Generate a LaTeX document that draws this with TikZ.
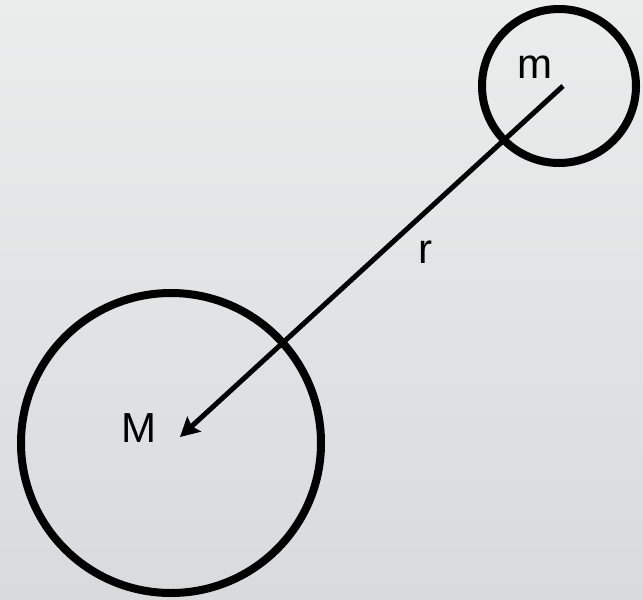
\documentclass[tikz,border=0pt]{standalone}
\usepackage{fontspec}
\setmainfont{Liberation Sans}
\usetikzlibrary{arrows.meta}
\definecolor{bgtop}{HTML}{EBECEC}
\definecolor{bgbot}{HTML}{D9DADC}
\tikzset{
  body/.style={circle, draw=black, line width=8pt, inner sep=0pt},
  lbl/.style={font=\fontsize{42}{42}\selectfont, inner sep=0pt},
  conn/.style={line width=5pt, -{Stealth[length=19pt,width=20pt,inset=3pt]}}
}
\begin{document}
\begin{tikzpicture}[x=1pt,y=-1pt]
\useasboundingbox (0,0) rectangle (643,600);
\shade[top color=bgtop, bottom color=bgbot] (0,0) rectangle (643,600);
\node[body, minimum size=154pt] (small) at (559,86) {};
\node[body, minimum size=300pt] (big) at (171,443) {};
\coordinate (start) at (563,86);
\coordinate (tip) at (180,437);
\draw[conn] (start) -- (tip);
\node[lbl] (mlabel) at (535,67) {m};
\node[lbl] (rlabel) at (425,252) {r};
\node[lbl] (Mlabel) at (139,428) {M};
\end{tikzpicture}
\end{document}
